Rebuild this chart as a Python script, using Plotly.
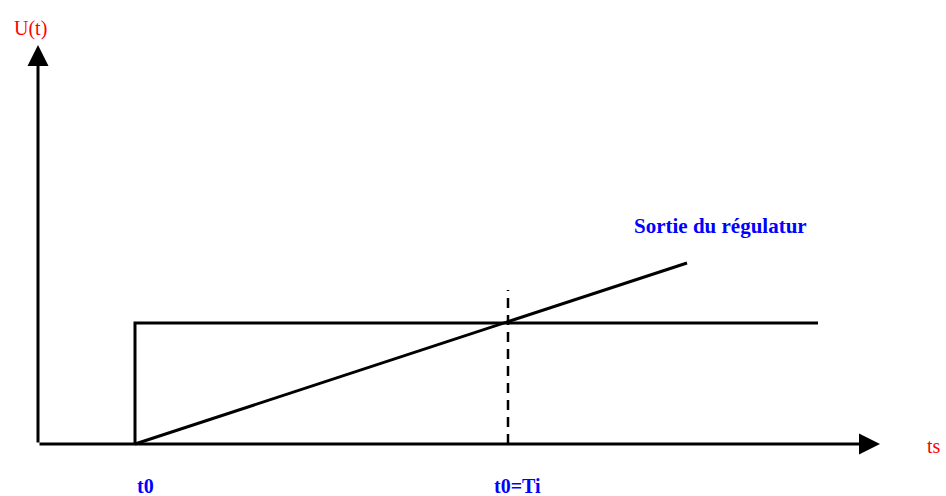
import plotly.graph_objects as go

# Coordinates: origin at axis crossing, units ~ pixels
t0 = 97
Ti = 470
level = 121
ramp_end_x = 649
ramp_end_y = 181
step_end_x = 780
dash_top = 154
x_axis_end = 842
y_axis_end = 399

step_x = [t0, t0, step_end_x]
step_y = [0, level, level]
ramp_x = [t0, ramp_end_x]
ramp_y = [0, ramp_end_y]
dash_x = [Ti, Ti]
dash_y = [0, dash_top]

tick_labels = ["t0", "t0=Ti"]
tick_pos = [t0, Ti]
tick_offsets = [10, 9]

FONT = "Liberation Serif"

fig = go.Figure()
fig.add_trace(go.Scatter(x=step_x, y=step_y, mode="lines",
                         line=dict(color="black", width=3), hoverinfo="skip"))
fig.add_trace(go.Scatter(x=ramp_x, y=ramp_y, mode="lines",
                         line=dict(color="black", width=3), hoverinfo="skip"))
fig.add_trace(go.Scatter(x=dash_x, y=dash_y, mode="lines",
                         line=dict(color="black", width=2.5, dash="10px,7px"), hoverinfo="skip"))

annotations = [
    dict(x=x_axis_end, y=0, ax=0, ay=0, xref="x", yref="y", axref="x", ayref="y",
         showarrow=True, arrowhead=2, arrowsize=1.4, arrowwidth=3, arrowcolor="black", text=""),
    dict(x=0, y=y_axis_end, ax=0, ay=0, xref="x", yref="y", axref="x", ayref="y",
         showarrow=True, arrowhead=2, arrowsize=1.4, arrowwidth=3, arrowcolor="black", text=""),
    dict(x=-8, y=416, xref="x", yref="y", text="U(t)", showarrow=False,
         font=dict(family=FONT, size=20, color="red")),
    dict(x=896, y=-2, xref="x", yref="y", text="ts", showarrow=False,
         font=dict(family=FONT, size=20, color="red")),
    dict(x=682, y=218, xref="x", yref="y", text="<b>Sortie du régulatur</b>", showarrow=False,
         font=dict(family=FONT, size=21, color="blue")),
]
for lab, pos, off in zip(tick_labels, tick_pos, tick_offsets):
    annotations.append(dict(x=pos + off, y=-42, xref="x", yref="y",
                            text="<b>" + lab + "</b>", showarrow=False,
                            font=dict(family=FONT, size=20, color="blue")))

fig.update_layout(
    width=946, height=496,
    margin=dict(l=0, r=0, t=0, b=0),
    plot_bgcolor="white", paper_bgcolor="white",
    showlegend=False,
    hovermode=False,
    xaxis=dict(range=[-38, 908], visible=False, fixedrange=True),
    yaxis=dict(range=[-52, 444], visible=False, fixedrange=True),
    annotations=annotations,
)
fig.write_html(
    "out.html",
    config={"displayModeBar": False},
    post_script="document.body.style.margin='0px';document.body.style.overflow='hidden';",
)
